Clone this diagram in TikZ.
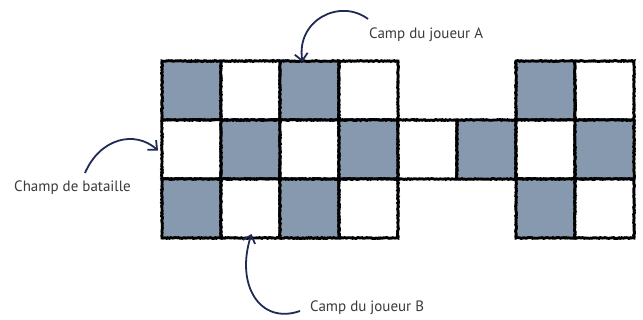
\documentclass[tikz,border=0pt]{standalone}
\usepackage{fontspec}
\setmainfont{PT Sans}
\usetikzlibrary{arrows.meta,decorations.pathmorphing}
\definecolor{cellblue}{HTML}{8699AF}
\definecolor{arrownavy}{HTML}{1F2A55}
\definecolor{txtgray}{HTML}{3A3A3A}
\tikzset{
  cell/.style={draw=black, line width=2.9pt, minimum size=59pt, inner sep=0pt,
    outer sep=0pt, fill=white,
    decoration={random steps, segment length=1.2pt, amplitude=0.45pt}, decorate},
  dark/.style={cell, fill=cellblue},
  lbl/.style={text=txtgray, font=\fontsize{15}{17}\selectfont, inner sep=0pt},
  pointer/.style={draw=arrownavy, line width=1.8pt,
    -{Straight Barb[length=7pt,width=13pt,line width=1.8pt]}}
}
\begin{document}
\begin{tikzpicture}[x=1pt,y=-1pt]
\useasboundingbox (0,0) rectangle (643,320);
% row 0
\node[dark] (c00) at (191.5,90.5) {};
\node[cell] (c01) at (250.5,90.5) {};
\node[dark] (c02) at (309.5,90.5) {};
\node[cell] (c03) at (368.5,90.5) {};
\node[dark] (c06) at (545.5,90.5) {};
\node[cell] (c07) at (604.5,90.5) {};
% row 1
\node[cell] (c10) at (191.5,149.5) {};
\node[dark] (c11) at (250.5,149.5) {};
\node[cell] (c12) at (309.5,149.5) {};
\node[dark] (c13) at (368.5,149.5) {};
\node[cell] (c14) at (427.5,149.5) {};
\node[dark] (c15) at (486.5,149.5) {};
\node[cell] (c16) at (545.5,149.5) {};
\node[dark] (c17) at (604.5,149.5) {};
% row 2
\node[dark] (c20) at (191.5,208.5) {};
\node[cell] (c21) at (250.5,208.5) {};
\node[dark] (c22) at (309.5,208.5) {};
\node[cell] (c23) at (368.5,208.5) {};
\node[dark] (c26) at (545.5,208.5) {};
\node[cell] (c27) at (604.5,208.5) {};
% labels
\node[lbl, anchor=west] (la) at (369,35) {Camp du joueur A};
\node[lbl, anchor=west] (lc) at (14,188) {Champ de bataille};
\node[lbl, anchor=west] (lb) at (310,308) {Camp du joueur B};
% arrows
\coordinate (sa) at (368,19);
\coordinate (ta) at ([xshift=-7pt,yshift=-1pt]c02.north);
\draw[pointer] (sa) .. controls (340,-2) and (296,20) .. (ta);
\coordinate (sc) at (85,173);
\coordinate (tc) at ([xshift=-4pt,yshift=-1pt]c10.west);
\draw[pointer] (sc) .. controls (100,138) and (135,130) .. (tc);
\coordinate (sb) at (300,311);
\coordinate (tb) at ([xshift=1pt,yshift=4pt]c21.south);
\draw[pointer] (sb) .. controls (260,325) and (235,285) .. (tb);
\end{tikzpicture}
\end{document}
